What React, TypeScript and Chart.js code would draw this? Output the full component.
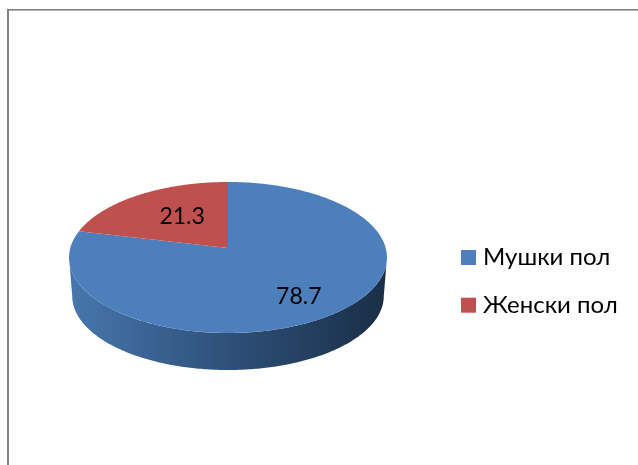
import React, { useEffect, useRef } from "react";
import { Chart, PieController, ArcElement, registerables } from "chart.js";

const categories = ["Мушки пол", "Женски пол"];
const values = [78.7, 21.3];
const valueLabels = ["78.7", "21.3"];
const sliceColors = ["#4c7fbc", "#c0504d"];
const wallStops = ["#4776ad", "#2e5079", "#1a2e47"];

const FONT = "Lato, 'Noto Sans', sans-serif";
const VIEW = { cx: 228, apexY: 248, a: 74.3, c: 157.7, p: -0.1258, depth: 38.7, floorScale: 0.98 };
const LABEL_RADIUS = [0.73, 0.54];
const LABEL_TURN = (3.7 * Math.PI) / 180;

function project(theta: number, floor = false) {
  const x = Math.cos(theta), y = Math.sin(theta);
  const d = 1 + VIEW.p * y;
  const s = floor ? VIEW.floorScale : 1;
  return {
    x: VIEW.cx + (s * VIEW.c * x) / d,
    y: VIEW.apexY + (s * VIEW.a * y) / d + (floor ? VIEW.depth : 0),
  };
}

class PerspectiveArc extends ArcElement {
  static id = "arc3d";
  draw(ctx: CanvasRenderingContext2D) {
    const { startAngle, endAngle } = (this as any).getProps(["startAngle", "endAngle"]);
    const o = (this as any).options;
    const steps = 240;
    const frontA = Math.asin(-VIEW.p);
    const frontB = Math.PI - frontA;
    const from = Math.max(startAngle, frontA);
    const to = Math.min(endAngle, frontB);
    ctx.save();
    if (to > from) {
      const grad = ctx.createLinearGradient(VIEW.cx - VIEW.c, 0, VIEW.cx + VIEW.c, 0);
      wallStops.forEach((s, i) => grad.addColorStop(i / (wallStops.length - 1), s));
      ctx.beginPath();
      for (let i = 0; i <= steps; i++) {
        const p = project(from + ((to - from) * i) / steps);
        if (i === 0) ctx.moveTo(p.x, p.y); else ctx.lineTo(p.x, p.y);
      }
      for (let i = steps; i >= 0; i--) {
        const p = project(from + ((to - from) * i) / steps, true);
        ctx.lineTo(p.x, p.y);
      }
      ctx.closePath();
      ctx.fillStyle = grad;
      ctx.fill();
    }
    ctx.beginPath();
    ctx.moveTo(VIEW.cx, VIEW.apexY);
    for (let i = 0; i <= steps; i++) {
      const p = project(startAngle + ((endAngle - startAngle) * i) / steps);
      ctx.lineTo(p.x, p.y);
    }
    ctx.closePath();
    ctx.fillStyle = o.backgroundColor;
    ctx.fill();
    ctx.restore();
  }
}

class PerspectivePie extends PieController {
  static id = "pie3d";
  static defaults = { dataElementType: "arc3d" };
}

Chart.register(...registerables, PerspectiveArc, PerspectivePie);

const frame = {
  id: "frame",
  beforeDraw(chart: any) {
    const ctx = chart.ctx;
    ctx.save();
    ctx.fillStyle = "#ffffff";
    ctx.fillRect(0, 0, chart.width, chart.height);
    ctx.fillStyle = "#808080";
    ctx.fillRect(7, 9, 2, chart.height - 9);
    ctx.fillRect(7, 9, chart.width - 7, 1);
    ctx.fillStyle = "#b4b4b4";
    ctx.fillRect(9, 10, chart.width - 9, 1);
    ctx.restore();
  },
};

const sliceLabels = {
  id: "sliceLabels",
  afterDatasetsDraw(chart: any) {
    const ctx = chart.ctx;
    const arcs = chart.getDatasetMeta(0).data;
    ctx.save();
    ctx.font = `23px ${FONT}`;
    ctx.fillStyle = "#000000";
    ctx.textAlign = "center";
    ctx.textBaseline = "middle";
    arcs.forEach((arc: any, i: number) => {
      const { startAngle, endAngle } = arc.getProps(["startAngle", "endAngle"]);
      const t = (startAngle + endAngle) / 2 + LABEL_TURN;
      const r = LABEL_RADIUS[i];
      const x = r * Math.cos(t), y = r * Math.sin(t);
      const d = 1 + VIEW.p * y;
      ctx.fillText(valueLabels[i], VIEW.cx + (VIEW.c * x) / d, VIEW.apexY + (VIEW.a * y) / d);
    });
    ctx.restore();
  },
};

const sideLegend = {
  id: "sideLegend",
  afterDraw(chart: any) {
    const ctx = chart.ctx;
    const ds = chart.data.datasets[0];
    ctx.save();
    ctx.font = `24px ${FONT}`;
    ctx.textBaseline = "middle";
    chart.data.labels.forEach((label: string, i: number) => {
      const top = 250 + i * 47.7;
      ctx.fillStyle = ds.backgroundColor[i];
      ctx.fillRect(461, top, 15, 15);
      ctx.fillStyle = "#000000";
      ctx.fillText(label, 483, top + 7.5);
    });
    ctx.restore();
  },
};

export default function App() {
  const ref = useRef<HTMLCanvasElement>(null);
  useEffect(() => {
    const chart = new Chart(ref.current!, {
      type: "pie3d" as any,
      data: {
        labels: categories,
        datasets: [{ data: values, backgroundColor: sliceColors, borderWidth: 0 }],
      },
      options: {
        animation: false,
        responsive: false,
        plugins: { legend: { display: false }, tooltip: { enabled: false } },
      },
      plugins: [frame, sliceLabels, sideLegend],
    });
    return () => chart.destroy();
  }, []);
  return (
    <canvas
      ref={ref}
      width={638}
      height={465}
      style={{ position: "absolute", left: 0, top: 0, display: "block" }}
    />
  );
}
